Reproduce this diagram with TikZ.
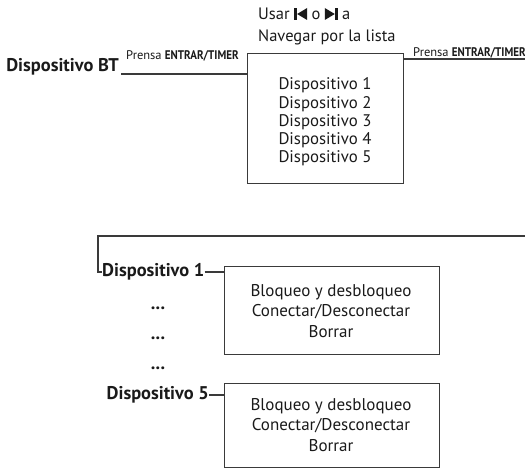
\documentclass[tikz,border=0pt]{standalone}
\usepackage{fontspec}
\setmainfont{PT Sans}
\usepackage{graphicx}
\definecolor{ink}{HTML}{1A1A1A}
\definecolor{wirec}{HTML}{3A3A3A}
\newcommand{\prevsym}{\tikz[x=1pt,y=1pt,baseline=0pt]{\fill[ink] (0,0) rectangle (2.6,12); \fill[ink] (3.0,6) -- (13,12) -- (13,0) -- cycle;}}
\newcommand{\nextsym}{\tikz[x=1pt,y=1pt,baseline=0pt]{\fill[ink] (0,0) -- (10,6) -- (0,12) -- cycle; \fill[ink] (10.4,0) rectangle (13,12);}}
\newcommand{\entrar}{\textbf{\scalebox{0.88}[1]{ENTRAR/TIMER}}}
\begin{document}
\begin{tikzpicture}[x=1pt,y=-1pt,
  txt/.style={font=\fontsize{16.8}{18.3}\selectfont, text=ink, inner sep=0pt},
  boxtxt/.style={font=\fontsize{17}{20.5}\selectfont, text=ink, inner sep=0pt, align=center},
  boldtxt/.style={font=\bfseries\fontsize{18.4}{20}\selectfont, text=ink, inner sep=0pt},
  prensa/.style={font=\fontsize{12.5}{14}\selectfont, text=ink, inner sep=0pt},
  frame/.style={draw=wirec, line width=1.1pt, inner sep=0pt, anchor=north west},
  wire/.style={draw=wirec, line width=1.1pt}]
\useasboundingbox (0,0) rectangle (525,468);

% top instruction
\node[txt, font=\fontsize{16.5}{22}\selectfont, anchor=base west] (usar1) at (258,20) {Usar \prevsym{} o \nextsym{} a};
\node[txt, font=\fontsize{16.5}{22}\selectfont, anchor=base west] (usar2) at (258,42) {Navegar por la lista};

% top part
\node[boldtxt, anchor=base east] (bt) at (119,72) {Dispositivo BT};
\node[frame, minimum width=156pt, minimum height=130pt] (topbox) at (247,53) {};
\node[txt, align=center] (devlist) at (325,122) {Dispositivo 1\\Dispositivo 2\\Dispositivo 3\\Dispositivo 4\\Dispositivo 5};
\node[prensa, anchor=base west] (p1) at (126,60) {Prensa \entrar};
\node[prensa, anchor=base west] (p2) at (413,57) {Prensa \entrar};
\coordinate (btend) at (121,74);
\coordinate (rend) at (525,59);
\draw[wire] (btend) -- (btend -| topbox.west);
\draw[wire] (topbox.east |- rend) -- (rend);

% bottom part
\node[boldtxt, anchor=west] (d1) at (102,272) {Dispositivo 1};
\node[boldtxt, anchor=east] (d5) at (209,395) {Dispositivo 5};
\node[frame, minimum width=215pt, minimum height=88pt] (box1) at (224,266) {};
\node[frame, minimum width=215pt, minimum height=84pt] (box2) at (224,383) {};
\node[boxtxt] (t1) at (331,311) {Bloqueo y desbloqueo\\Conectar/Desconectar\\Borrar};
\node[boxtxt] (t2) at (331,425) {Bloqueo y desbloqueo\\Conectar/Desconectar\\Borrar};
\node[boldtxt, anchor=base] (dots1) at (158,309) {...};
\node[boldtxt, anchor=base] (dots2) at (158,339) {...};
\node[boldtxt, anchor=base] (dots3) at (158,369) {...};

\coordinate (brk) at (525,236);
\coordinate (corner) at (98,236);
\draw[wire] (brk) -- (corner) |- (d1.west);
\draw[wire] (d1.east) -- (d1.east -| box1.west);
\draw[wire] (d5.east) -- (d5.east -| box2.west);
\end{tikzpicture}
\end{document}
